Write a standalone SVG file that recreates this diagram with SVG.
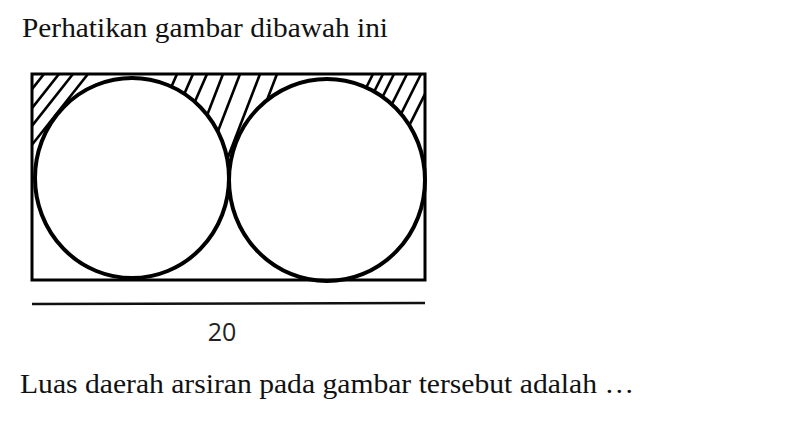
<svg xmlns="http://www.w3.org/2000/svg" width="797" height="448" viewBox="0 0 797 448">
<style>
.t{font-family:"Liberation Serif","Times New Roman",serif;font-size:28px;fill:#111}
.n{font-family:"Open Sans","Liberation Sans",sans-serif;font-size:25px;fill:#222}
.h line{stroke:#000;stroke-width:2.6}
.s{fill:none;stroke:#000}
</style>
<defs>
<clipPath id="cp">
<path clip-rule="evenodd" d="M32,74H425V180H32Z M35,178a97,100 0 1,0 194,0a97,100 0 1,0 -194,0Z M229,180a98,101 0 1,0 196,0a98,101 0 1,0 -196,0Z"/>
</clipPath>
</defs>
<rect width="797" height="448" fill="#fff"/>
<text class="t" x="22" y="37" textLength="366" lengthAdjust="spacingAndGlyphs">Perhatikan gambar dibawah ini</text>
<g id="hatch" class="h" clip-path="url(#cp)">
<line x1="30" y1="74" x2="-46" y2="170"/>
<line x1="44" y1="74" x2="-32" y2="170"/>
<line x1="59" y1="74" x2="-17" y2="170"/>
<line x1="73" y1="74" x2="-3" y2="170"/>
<line x1="88" y1="74" x2="12" y2="170"/>
<line x1="177" y1="74" x2="135" y2="170"/>
<line x1="193" y1="74" x2="151" y2="170"/>
<line x1="207" y1="74" x2="165" y2="170"/>
<line x1="223" y1="74" x2="186" y2="170"/>
<line x1="240" y1="74" x2="203" y2="170"/>
<line x1="260" y1="74" x2="223" y2="170"/>
<line x1="277" y1="74" x2="240" y2="170"/>
<line x1="373" y1="74" x2="325" y2="170"/>
<line x1="383" y1="74" x2="335" y2="170"/>
<line x1="394" y1="74" x2="346" y2="170"/>
<line x1="407" y1="74" x2="359" y2="170"/>
<line x1="421" y1="74" x2="373" y2="170"/>
<line x1="435" y1="74" x2="387" y2="170"/>
</g>
<g id="rect"><rect class="s" x="32" y="74" width="393" height="206" stroke-width="3"/></g>
<g id="circle-left"><ellipse class="s" cx="132" cy="178" rx="97" ry="100" stroke-width="4"/></g>
<g id="circle-right"><ellipse class="s" cx="327" cy="180" rx="98" ry="101" stroke-width="4"/></g>
<g id="dimension">
<line x1="32" y1="304" x2="425" y2="303" stroke="#111" stroke-width="2.5"/>
<text class="n" x="222" y="341" text-anchor="middle">20</text>
</g>
<text class="t" x="20" y="393" textLength="614" lengthAdjust="spacingAndGlyphs">Luas daerah arsiran pada gambar tersebut adalah …</text>
</svg>
